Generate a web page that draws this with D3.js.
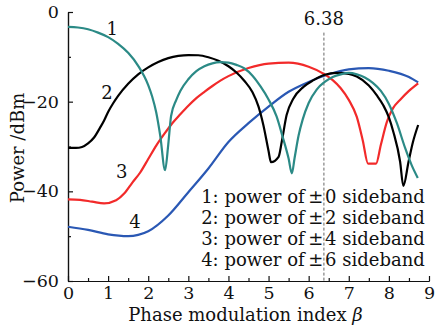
<!DOCTYPE html>
<html>
<head>
<meta charset="utf-8">
<script src="https://cdn.jsdelivr.net/npm/d3@7/dist/d3.min.js"></script>
<style>
    body { margin: 0; background: #fff; }
    text { font-family: "DejaVu Serif", serif; fill: #111; }
</style>
</head>
<body>
<div id="chart"></div>
<script>

// Sideband power curves (beta, dBm)
var beta0 = [0, 0.25, 0.5, 0.75, 1.0, 1.25, 1.5, 1.75, 2.0, 2.1, 2.2, 2.3, 2.42, 2.5, 2.57, 2.7, 2.8, 3.0, 3.2, 3.4, 3.6, 3.8, 4.0, 4.2, 4.4, 4.6, 4.8, 5.0, 5.2, 5.35, 5.5, 5.58, 5.65, 5.75, 5.85, 6.0, 6.2, 6.4, 6.6, 6.8, 7.0, 7.2, 7.4, 7.6, 7.8, 8.0, 8.2, 8.4, 8.57, 8.72];
var power0 = [-3.3, -3.45, -3.85, -4.6, -5.6, -7.1, -9.1, -12.0, -16.3, -18.9, -22.4, -27.6, -35.3, -29.5, -23.2, -19.6, -17.6, -15.0, -13.2, -12.1, -11.45, -11.2, -11.3, -11.8, -12.6, -14.2, -16.6, -19.5, -23.3, -27.8, -32.7, -36.0, -32.5, -27.5, -24.0, -20.3, -17.3, -15.6, -14.5, -13.9, -13.6, -13.9, -14.6, -15.8, -17.6, -20.5, -24.8, -30.2, -34.2, -37.0];

var beta2 = [0, 0.2, 0.35, 0.5, 0.65, 0.8, 0.9, 1.0, 1.13, 1.25, 1.5, 1.75, 2.0, 2.25, 2.5, 2.75, 3.0, 3.25, 3.5, 3.75, 4.0, 4.2, 4.4, 4.6, 4.75, 4.87, 5.0, 5.06, 5.25, 5.33, 5.45, 5.62, 5.87, 6.12, 6.4, 6.7, 7.0, 7.2, 7.5, 7.7, 7.86, 8.0, 8.11, 8.28, 8.36, 8.49, 8.6, 8.73];
var power2 = [-30.3, -30.3, -30.1, -29.3, -28.0, -25.8, -24.2, -22.3, -20.3, -18.7, -16.0, -13.9, -12.35, -11.15, -10.3, -9.8, -9.6, -9.65, -10.1, -10.9, -12.1, -13.5, -15.4, -17.9, -21.1, -25.2, -31.0, -33.5, -32.3, -28.9, -23.0, -19.3, -16.7, -15.2, -14.0, -13.6, -13.8, -14.4, -16.4, -18.6, -20.8, -23.5, -26.7, -33.4, -38.8, -33.4, -29.0, -25.2];

var beta4 = [0, 0.3, 0.6, 0.9, 1.2, 1.4, 1.6, 1.8, 2.0, 2.2, 2.4, 2.6, 2.8, 3.0, 3.2, 3.4, 3.6, 3.8, 4.0, 4.5, 5.0, 5.5, 6.0, 6.4, 6.6, 6.8, 7.0, 7.2, 7.35, 7.48, 7.68, 7.8, 7.95, 8.1, 8.3, 8.5, 8.73];
var power4 = [-41.8, -41.9, -42.3, -42.7, -42.0, -40.5, -38.1, -35.8, -32.8, -29.8, -27.2, -24.8, -22.8, -20.9, -19.2, -17.8, -16.5, -15.3, -14.3, -12.5, -11.5, -11.3, -12.2, -13.9, -15.2, -17.0, -19.6, -23.4, -28.7, -33.8, -33.8, -29.6, -24.5, -21.5, -19.4, -17.6, -15.9];

var beta6 = [0, 0.5, 1.0, 1.5, 2.0, 2.5, 3.0, 3.5, 4.0, 4.5, 5.0, 5.5, 6.0, 6.5, 7.0, 7.5, 8.0, 8.5, 8.73];
var power6 = [-47.9, -48.6, -49.6, -50.0, -48.9, -45.4, -40.2, -34.9, -29.0, -24.8, -21.1, -17.8, -15.6, -13.9, -12.8, -12.5, -13.1, -14.5, -15.7];

var curveNames = ['1', '2', '3', '4'];
var curveColors = ['#2b8a86', '#000000', '#f22a2a', '#2a58b4'];
var legendLabels = [
    '1: power of\u2009\u00b1\u200a0 sideband',
    '2: power of\u2009\u00b1\u200a2 sideband',
    '3: power of\u2009\u00b1\u200a4 sideband',
    '4: power of\u2009\u00b1\u200a6 sideband'
];

var xTicks = [0, 1, 2, 3, 4, 5, 6, 7, 8, 9];
var xMinorTicks = [0.5, 1.5, 2.5, 3.5, 4.5, 5.5, 6.5, 7.5, 8.5];
var yTicks = [0, -20, -40, -60];
var yMinorTicks = [-10, -30, -50];
var markBeta = 6.38;

class SidebandPlot {

    constructor(elemID) {
        var width = 436;
        var height = 334;
        this.margin = {top: 12, left: 68, right: 7, bottom: 53};

        var chartDiv = d3.select(elemID);
        this.svg = chartDiv.append('svg')
            .attr('width', width)
            .attr('height', height);

        this.plotW = width - this.margin.left - this.margin.right;
        this.plotH = height - this.margin.top - this.margin.bottom;

        this.xScale = d3.scaleLinear()
            .domain([0, 9])
            .range([0, this.plotW]);

        this.yScale = d3.scaleLinear()
            .domain([0, -60])
            .range([0, this.plotH]);

        this.g = this.svg.append('g')
            .attr('transform', 'translate(' + this.margin.left + ',' + this.margin.top + ')');

        this.drawAxes();
    }

    /* Axes with inward ticks, no frame on top or right.*/
    drawAxes() {
        var g = this.g;

        g.append('g')
            .attr('class', 'axis x-axis')
            .attr('transform', 'translate(0,' + this.plotH + ')')
            .call(d3.axisBottom(this.xScale)
                .tickValues(xTicks)
                .tickFormat(d3.format('d'))
                .tickSizeInner(-5)
                .tickSizeOuter(0)
                .tickPadding(6));

        g.append('g')
            .attr('class', 'axis x-minor')
            .attr('transform', 'translate(0,' + this.plotH + ')')
            .call(d3.axisBottom(this.xScale)
                .tickValues(xMinorTicks)
                .tickFormat('')
                .tickSizeInner(-3)
                .tickSizeOuter(0));

        g.append('g')
            .attr('class', 'axis y-axis')
            .call(d3.axisLeft(this.yScale)
                .tickValues(yTicks)
                .tickSizeInner(-5)
                .tickSizeOuter(0)
                .tickPadding(9));

        g.append('g')
            .attr('class', 'axis y-minor')
            .call(d3.axisLeft(this.yScale)
                .tickValues(yMinorTicks)
                .tickFormat('')
                .tickSizeInner(-3)
                .tickSizeOuter(0));

        g.selectAll('.axis path, .axis line')
            .attr('stroke', '#111')
            .attr('stroke-width', 1.2);

        g.selectAll('.axis text')
            .attr('font-family', '"DejaVu Serif", serif')
            .attr('font-size', 17.5)
            .attr('fill', '#111');

        // axis titles
        var xt = this.svg.append('text')
            .attr('x', this.margin.left + this.plotW / 2 - 3)
            .attr('y', 321)
            .attr('text-anchor', 'middle')
            .attr('font-size', 18);
        xt.append('tspan').text('Phase modulation index ');
        xt.append('tspan').attr('font-style', 'italic').text('\u03b2');

        this.svg.append('text')
            .attr('transform', 'translate(24,' + (this.margin.top + 136) + ') rotate(-90)')
            .attr('text-anchor', 'middle')
            .attr('font-size', 18)
            .text('Power /dBm');
    }

    drawCurve(betas, powers, color) {
        var pts = betas.map((b, i) => [b, powers[i]]);
        var line = d3.line()
            .x(d => this.xScale(d[0]))
            .y(d => this.yScale(d[1]))
            .curve(d3.curveMonotoneX);

        this.g.append('path')
            .datum(pts)
            .attr('fill', 'none')
            .attr('stroke', color)
            .attr('stroke-width', 2.2)
            .attr('stroke-linejoin', 'round')
            .attr('d', line);
    }

    /* Dashed marker line at beta = 6.38.*/
    drawMarker(beta) {
        var x = this.xScale(beta);
        this.g.append('line')
            .attr('x1', x).attr('x2', x)
            .attr('y1', this.yScale(-4.6)).attr('y2', this.plotH)
            .attr('stroke', '#666')
            .attr('stroke-width', 1)
            .attr('stroke-dasharray', '3,2');

        this.g.append('text')
            .attr('x', x)
            .attr('y', 13)
            .attr('text-anchor', 'middle')
            .attr('font-size', 18)
            .text(d3.format('.2f')(beta));
    }

    drawLabels() {
        // curve numbers next to each line, in data coords
        var spots = [[1.1, -3.6], [0.97, -18.0], [1.34, -35.6], [1.67, -46.8]];
        this.g.selectAll('.curve-label')
            .data(curveNames).enter()
            .append('text')
                .attr('class', 'curve-label')
                .attr('x', (d, i) => this.xScale(spots[i][0]))
                .attr('y', (d, i) => this.yScale(spots[i][1]))
                .attr('text-anchor', 'middle')
                .attr('dominant-baseline', 'central')
                .attr('font-size', 18)
                .text(d => d);

        var legend = this.g.append('g')
            .attr('transform', 'translate(' + this.xScale(3.32) + ',' + this.yScale(-42.6) + ')');
        legend.selectAll('text')
            .data(legendLabels).enter()
            .append('text')
                .attr('x', 0)
                .attr('y', (d, i) => i * 21)
                .attr('font-size', 18)
                .text(d => d);
    }
}

var plot = new SidebandPlot('#chart');
plot.drawMarker(markBeta);
plot.drawCurve(beta6, power6, curveColors[3]);
plot.drawCurve(beta4, power4, curveColors[2]);
plot.drawCurve(beta2, power2, curveColors[1]);
plot.drawCurve(beta0, power0, curveColors[0]);
plot.drawLabels();

</script>
</body>
</html>
